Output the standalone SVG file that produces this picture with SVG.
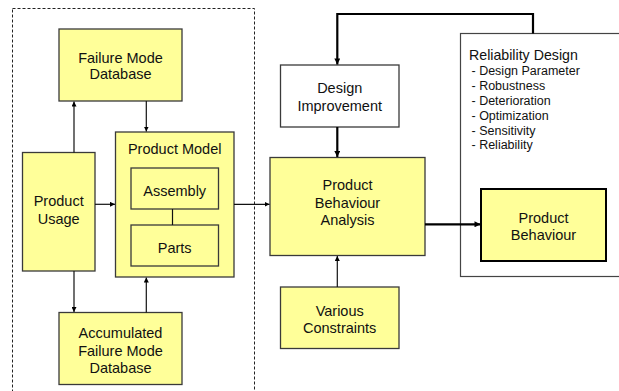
<svg xmlns="http://www.w3.org/2000/svg" width="619" height="391" viewBox="0 0 619 391">
<defs>
<style>
.n{fill:#FFFF99;stroke:#3a3a3a;stroke-width:1.3}
.w{fill:#FFFFFF;stroke:#3a3a3a;stroke-width:1.3}
.t{font-family:"Liberation Sans",Arial,sans-serif;font-size:14.5px;fill:#111;text-anchor:middle}
.s{font-family:"Liberation Sans",Arial,sans-serif;font-size:12.5px;fill:#111}
.c{fill:none;stroke:#111;stroke-width:1.2}
.k{fill:none;stroke:#000;stroke-width:2.2}
</style>
<marker id="a" viewBox="0 0 10 10" refX="10" refY="5" markerWidth="5" markerHeight="5" markerUnits="userSpaceOnUse" orient="auto"><path d="M0,0L10,5L0,10z" fill="#000"/></marker>
<marker id="b" viewBox="0 0 10 10" refX="10" refY="5" markerWidth="7" markerHeight="6" markerUnits="userSpaceOnUse" orient="auto"><path d="M0,0L10,5L0,10z" fill="#000"/></marker>
</defs>
<rect width="619" height="391" fill="#fff"/>
<rect id="boundary" x="12.5" y="8.5" width="242" height="390" fill="none" stroke="#222" stroke-width="1" stroke-dasharray="3,2"/>
<g id="reliability-design">
<rect x="460.5" y="33.5" width="170" height="243" fill="#fff" stroke="#444" stroke-width="1.2"/>
<text class="s" x="469" y="60" style="font-size:14.2px">Reliability Design</text>
<text class="s" x="471.5" y="75">- Design Parameter</text>
<text class="s" x="471.5" y="90">- Robustness</text>
<text class="s" x="471.5" y="104.5">- Deterioration</text>
<text class="s" x="471.5" y="119.5">- Optimization</text>
<text class="s" x="471.5" y="134.5">- Sensitivity</text>
<text class="s" x="471.5" y="149">- Reliability</text>
</g>
<g id="failure-mode-db">
<rect class="n" x="59" y="29" width="123" height="72"/>
<text class="t" x="120.5" y="62.5">Failure Mode</text>
<text class="t" x="120.5" y="78.7">Database</text>
</g>
<g id="product-usage">
<rect class="n" x="22.5" y="152.5" width="72.5" height="118.5"/>
<text class="t" x="58.7" y="206">Product</text>
<text class="t" x="58.7" y="223.5">Usage</text>
</g>
<g id="product-model">
<rect class="n" x="115.5" y="132" width="118.5" height="145"/>
<text class="t" x="174.7" y="154">Product Model</text>
</g>
<g id="assembly">
<rect class="n" x="131" y="168" width="87.5" height="41"/>
<text class="t" x="174.7" y="196">Assembly</text>
</g>
<g id="parts">
<rect class="n" x="131" y="225" width="87.5" height="41"/>
<text class="t" x="174.7" y="253.3">Parts</text>
</g>
<g id="accumulated-db">
<rect class="n" x="59" y="312.5" width="123" height="72"/>
<text class="t" x="120.5" y="338.3">Accumulated</text>
<text class="t" x="120.5" y="355.7">Failure Mode</text>
<text class="t" x="120.5" y="373.3">Database</text>
</g>
<g id="design-improvement">
<rect class="w" x="280.5" y="65" width="118.5" height="62"/>
<text class="t" x="339.7" y="93.3">Design</text>
<text class="t" x="339.7" y="111">Improvement</text>
</g>
<g id="product-behaviour-analysis">
<rect class="n" x="270" y="157.5" width="155" height="98"/>
<text class="t" x="347.5" y="189.5">Product</text>
<text class="t" x="347.5" y="207.5">Behaviour</text>
<text class="t" x="347.5" y="225">Analysis</text>
</g>
<g id="various-constraints">
<rect class="n" x="280.5" y="287" width="118.5" height="61.5"/>
<text class="t" x="339.7" y="316">Various</text>
<text class="t" x="339.7" y="332.7">Constraints</text>
</g>
<g id="product-behaviour">
<rect x="481" y="189" width="125" height="72" fill="#FFFF99" stroke="#000" stroke-width="2"/>
<text class="t" x="543.5" y="223.3">Product</text>
<text class="t" x="543.5" y="240">Behaviour</text>
</g>
<g id="connectors">
<line class="c" x1="74" y1="152.5" x2="74" y2="101.5" marker-end="url(#a)"/>
<line class="c" x1="146.3" y1="101" x2="146.3" y2="131.5" marker-end="url(#a)"/>
<line class="c" x1="95" y1="204.3" x2="115" y2="204.3" marker-end="url(#a)"/>
<line class="c" x1="74" y1="271" x2="74" y2="312" marker-end="url(#a)"/>
<line class="c" x1="146.3" y1="312.5" x2="146.3" y2="277.5" marker-end="url(#a)"/>
<line class="c" x1="172.5" y1="209" x2="172.5" y2="225"/>
<line class="c" x1="234" y1="204.3" x2="269.5" y2="204.3" marker-end="url(#a)"/>
<line class="c" x1="337.3" y1="287" x2="337.3" y2="256" marker-end="url(#a)"/>
<line class="k" x1="337.3" y1="127" x2="337.3" y2="157" marker-end="url(#b)"/>
<line class="k" x1="425" y1="224.3" x2="480.5" y2="224.3" marker-end="url(#b)"/>
<polyline class="k" points="533,33.5 533,14 337.3,14 337.3,64.5" marker-end="url(#b)"/>
</g>
</svg>
